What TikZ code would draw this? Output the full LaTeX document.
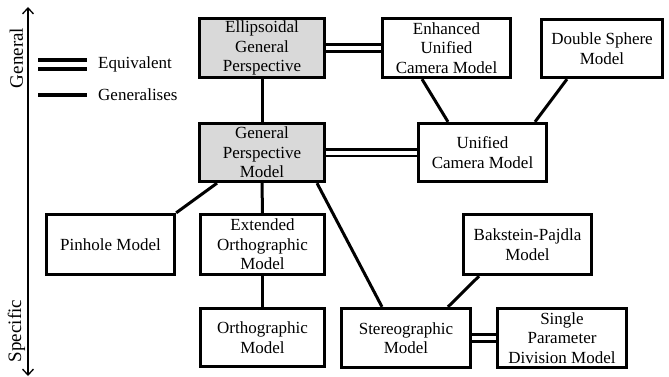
\documentclass[tikz,border=0pt]{standalone}
\usepackage{fontspec}
\setmainfont{Liberation Serif}
\usetikzlibrary{arrows.meta,backgrounds,calc}
\definecolor{boxgray}{RGB}{217,217,217}
\newcommand\fsbox{\fontsize{17}{19.5}\selectfont}
\newcommand\fsaxis{\fontsize{19}{22}\selectfont}
\tikzset{
  box/.style={draw, line width=2.8pt, fill=white, align=center, inner sep=0pt, font=\fsbox},
  gbox/.style={box, fill=boxgray},
  genline/.style={line width=3pt},
  eqline/.style={line width=2.8pt, double=white, double distance=4pt},
  leggen/.style={line width=4.2pt},
  legeq/.style={line width=3.8pt, double=white, double distance=4.5pt},
  legtext/.style={anchor=west, inner sep=0pt, font=\fsbox},
  axislabel/.style={rotate=90, inner sep=0pt, font=\fsaxis},
  axisline/.style={line width=1.3pt, {Straight Barb[length=6pt,width=11pt]}-{Straight Barb[length=6pt,width=11pt]}}
}
\begin{document}
\begin{tikzpicture}[x=1pt,y=-1pt]
\useasboundingbox (0,0) rectangle (669,377);
% nodes
\node[gbox, minimum width=125.5, minimum height=59.5] (egp) at (262,48) {Ellipsoidal\\General\\Perspective};
\node[box, minimum width=128.5, minimum height=59.5] (eucm) at (446.5,48) {Enhanced\\Unified\\Camera Model};
\node[box, minimum width=121.5, minimum height=58.5] (dsm) at (602,48.5) {Double Sphere\\Model};
\node[gbox, minimum width=125.5, minimum height=58.5] (gpm) at (262,152.5) {General\\Perspective\\Model};
\node[box, minimum width=128.5, minimum height=58.5] (ucm) at (482.5,152.5) {Unified\\Camera Model};
\node[box, minimum width=128.5, minimum height=60.5] (pin) at (110.5,244.5) {Pinhole Model};
\node[box, minimum width=124.5, minimum height=60.5] (eom) at (262.5,244.5) {Extended\\Orthographic\\Model};
\node[box, minimum width=128.5, minimum height=60.5] (bp) at (527.5,244.5) {Bakstein-Pajdla\\Model};
\node[box, minimum width=124.5, minimum height=58.5] (orth) at (262.5,337.5) {Orthographic\\Model};
\node[box, minimum width=129.5, minimum height=59.5] (stereo) at (406,338) {Stereographic\\Model};
\node[box, minimum width=129.5, minimum height=59.5] (spdm) at (562,338) {Single\\Parameter\\Division Model};
% legend
\coordinate (le1) at (38,64.5);
\coordinate (le2) at (87,64.5);
\coordinate (lg1) at (38,95);
\coordinate (lg2) at (87,95);
\node[legtext] (leqt) at (98,64.5) {Equivalent};
\node[legtext] (lgent) at (98,95) {Generalises};
% axis
\coordinate (atop) at (28,7);
\coordinate (abot) at (28,376);
\node[axislabel] (lgeneral) at (16.5,58) {General};
\node[axislabel] (lspecific) at (16.5,331) {Specific};
\begin{scope}[on background layer]
  \fill[white] (0,0) rectangle (669,377);
  \draw[axisline] (abot) -- (atop);
  \draw[legeq] (le1) -- (le2);
  \draw[leggen] (lg1) -- (lg2);
  \draw[eqline] (egp) -- (eucm);
  \draw[eqline] (gpm) -- (ucm);
  \draw[eqline] (stereo) -- (spdm);
  \draw[genline] (egp) -- (gpm);
  \draw[genline] (gpm) -- (eom);
  \draw[genline] (eom) -- (orth);
  \draw[genline] ($(gpm.south)+(-45,0)$) -- (pin.north east);
  \draw[genline] ($(gpm.south)+(55,0)$) -- ($(stereo.north)+(-24,0)$);
  \draw[genline] ($(eucm.south)+(-24.5,0)$) -- ($(ucm.north)+(-34.5,0)$);
  \draw[genline] ($(dsm.south)+(-35,0)$) -- ($(ucm.north)+(52.5,0)$);
  \draw[genline] ($(bp.south)+(-48.5,0)$) -- ($(stereo.north)+(42,0)$);
\end{scope}
\end{tikzpicture}
\end{document}
